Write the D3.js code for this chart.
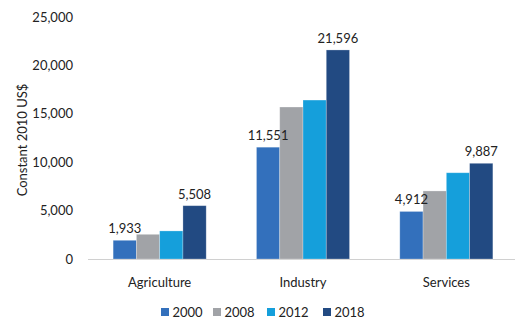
<!DOCTYPE html>
<html><head><meta charset="utf-8">
<script src="https://cdn.jsdelivr.net/npm/d3@7/dist/d3.min.js"></script>
<style>body{margin:0;background:#fff}svg{display:block}text{font-family:Lato,"Open Sans",sans-serif;fill:#222}</style>
</head><body><svg id="c" width="515" height="322"></svg>
<script>
const categories = ["Agriculture","Industry","Services"];
const years = ["2000","2008","2012","2018"];
const v2000 = [1933, 11551, 4912];
const v2008 = [2550, 15700, 7030];
const v2012 = [2900, 16420, 8910];
const v2018 = [5508, 21596, 9887];
const yTicks = [0,5000,10000,15000,20000,25000];
const colors = ["#3370BC","#A1A3A7","#159FDB","#224A82"];
const labelled = ["2000","2018"];

const series = [v2000, v2008, v2012, v2018];
const svg = d3.select("#c");
const m = {l:88, r:-3, t:17, b:63};
const W = 515, H = 322;
const x0 = d3.scaleBand().domain(categories).range([m.l, W - m.r]).paddingInner(0).paddingOuter(0);
const x1 = d3.scaleBand().domain(years).range([0, x0.bandwidth()]).paddingInner(0).paddingOuter(1.08);
const y = d3.scaleLinear().domain([0,25000]).range([H - m.b, m.t]);
const fmt = d3.format(",");

// y axis labels
svg.append("g").selectAll("text").data(yTicks).join("text")
  .attr("x", 73).attr("y", d => y(d)).attr("dy","0.35em")
  .attr("text-anchor","end").attr("font-size",13).text(d => fmt(d));

// baseline
svg.append("line").attr("x1", m.l).attr("x2", W).attr("y1", y(0)+0.5).attr("y2", y(0)+0.5)
  .attr("stroke","#d0d0d0").attr("stroke-width",1);

// bars
const barLayer = svg.append("g");
const labelLayer = svg.append("g");
categories.forEach((c, ci) => {
  const gx = x0(c);
  years.forEach((yr, si) => {
    const val = series[si][ci];
    barLayer.append("rect").attr("x", gx + x1(yr)).attr("width", x1.bandwidth())
      .attr("y", y(val)).attr("height", y(0) - y(val)).attr("fill", colors[si])
      .attr("stroke","#ffffff").attr("stroke-opacity",0.35).attr("stroke-width",0.75);
    if (labelled.includes(yr)) {
      labelLayer.append("text").attr("x", gx + x1(yr) + x1.bandwidth()/2).attr("y", y(val) - 7)
        .attr("text-anchor","middle").attr("font-size",13).text(fmt(val));
    }
  });
});

// category labels
svg.append("g").selectAll("text").data(categories).join("text")
  .attr("x", d => x0(d) + x0.bandwidth()/2).attr("y", 282).attr("dy","0.35em")
  .attr("text-anchor","middle").attr("font-size",13).text(d => d);

// y title
svg.append("text").attr("transform","translate(22,140) rotate(-90)")
  .attr("text-anchor","middle").attr("dy","0.35em").attr("font-size",13).text("Constant 2010 US$");

// legend
const lx = [161, 213, 267, 323];
const lg = svg.append("g").selectAll("g").data(years).join("g")
  .attr("transform", (d,i) => `translate(${lx[i]},312)`);
lg.append("rect").attr("x",0).attr("y",-4).attr("width",8).attr("height",8).attr("fill",(d,i)=>colors[i]);
lg.append("text").attr("x",11.5).attr("y",0).attr("dy","0.35em").attr("font-size",13).text(d=>d);
</script></body></html>
